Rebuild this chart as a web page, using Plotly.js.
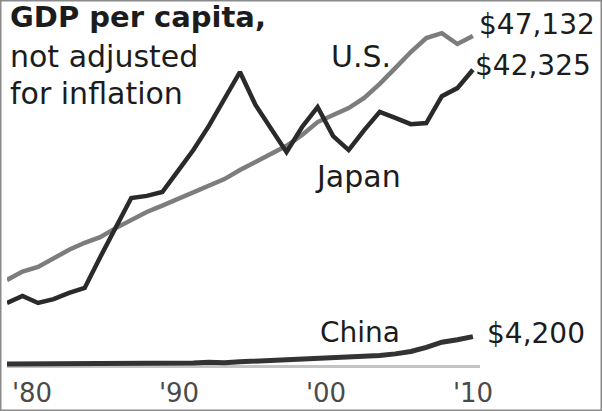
<!DOCTYPE html>
<html>
<head>
<meta charset="utf-8">
<script src="https://cdn.plot.ly/plotly-3.0.1.min.js"></script>
<style>html,body{margin:0;padding:0;background:#fff;}#chart{width:602px;height:411px;}</style>
</head>
<body>
<div id="chart"></div>
<script>
// ---- data ----
const years = [1980,1981,1982,1983,1984,1985,1986,1987,1988,1989,1990,1991,1992,1993,1994,1995,1996,1997,1998,1999,2000,2001,2002,2003,2004,2005,2006,2007,2008,2009,2010];
const usGDP = [12300,13500,14150,15400,16600,17600,18400,19700,20900,22000,22900,23850,24700,25700,26700,28000,29150,30300,31450,33000,34850,35850,36850,38300,40300,42550,44850,46850,47550,46000,47132];
const japanGDP = [9000,10000,9000,9550,10450,11150,15550,19700,24000,24300,24850,27850,30850,34300,38000,42000,37300,34000,30550,34150,37000,32850,30850,33700,36300,35450,34550,34700,38550,39700,42325];
const chinaGDP = [300,300,290,300,310,290,280,250,280,310,340,350,420,520,470,600,700,770,820,860,950,1040,1130,1270,1490,1730,2070,2650,3400,3750,4200];
const tickYears = [1980,1990,2000,2010];
const tickLabels = ["'80","'90","'00","'10"];
const seriesNames = ["U.S.","Japan","China"];
const endLabels = ["$47,132","$42,325","$4,200"];
const titleLines = ["GDP per capita,","not adjusted","for inflation"];

// ---- layout helpers ----
const W = 602, H = 411;
const M = {l: 7, r: 122, t: 0, b: 41};
const PW = W - M.l - M.r, PH = H - M.t - M.b;
const px = x => (x - M.l) / PW;           // pixel -> paper x
const py = y => (H - M.b - y) / PH;       // pixel -> paper y
const FONT = "DejaVu Sans";
const INK = "#1c1c1c";

const traces = [
  {x: years, y: usGDP, name: seriesNames[0], mode: "lines",
   line: {color: "#7d7d7d", width: 4.5}},
  {x: years, y: japanGDP, name: seriesNames[1], mode: "lines",
   line: {color: "#2a2a2a", width: 4.5}},
  {x: years, y: chinaGDP, name: seriesNames[2], mode: "lines",
   line: {color: "#333333", width: 5}},
  {x: [], y: [], xaxis: "x2", showlegend: false, hoverinfo: "skip"}
];

function ann(text, x, y, size, opts) {
  return Object.assign({
    text: text, xref: "paper", yref: "paper", x: px(x), y: py(y),
    xanchor: "left", yanchor: "middle", showarrow: false,
    font: {family: FONT, size: size, color: INK}
  }, opts || {});
}

const annotations = [
  ann("<b>" + titleLines[0] + "</b>", 8, 17, 29),
  ann(titleLines[1], 8, 56, 30),
  ann(titleLines[2], 8, 93, 30),
  ann(seriesNames[0], 329, 56, 30),
  ann(seriesNames[1], 313, 176, 30),
  ann(seriesNames[2], 318, 332, 28),
  ann(endLabels[0], 477, 24, 28),
  ann(endLabels[1], 473, 66, 28),
  ann(endLabels[2], 485, 333, 28)
];

const yScale = 0.0070; // px per dollar
const zeroPx = 366;
const layout = {
  width: W, height: H,
  margin: M,
  paper_bgcolor: "#ffffff", plot_bgcolor: "#ffffff",
  showlegend: false,
  xaxis: {
    range: [1980, 1980 + PW / 15.53],
    showgrid: false, zeroline: false, showline: false,
    showticklabels: false, ticks: ""
  },
  xaxis2: {
    overlaying: "x", anchor: "y", side: "bottom",
    range: [1980 - 25 / 14.7, 1980 - 25 / 14.7 + PW / 14.7],
    tickvals: tickYears, ticktext: tickLabels,
    showgrid: false, zeroline: false, showline: false, ticks: "",
    ticklabelstandoff: 5,
    tickfont: {family: FONT, size: 26, color: "#4a4a4a"}
  },
  yaxis: {
    range: [-(H - M.b - zeroPx) / yScale, (zeroPx - M.t) / yScale],
    showgrid: false, showticklabels: false, ticks: "",
    zeroline: true, zerolinecolor: "#c4c4c4", zerolinewidth: 3
  },
  annotations: annotations,
  shapes: [
    {type: "rect", xref: "paper", yref: "paper",
     x0: px(0.5), x1: px(W - 0.5), y0: py(H - 0.5), y1: py(0.5),
     line: {color: "#8a8a8a", width: 2}, fillcolor: "rgba(0,0,0,0)", layer: "above"}
  ]
};

Plotly.newPlot("chart", traces, layout, {displayModeBar: false, staticPlot: true});
</script>
</body>
</html>
